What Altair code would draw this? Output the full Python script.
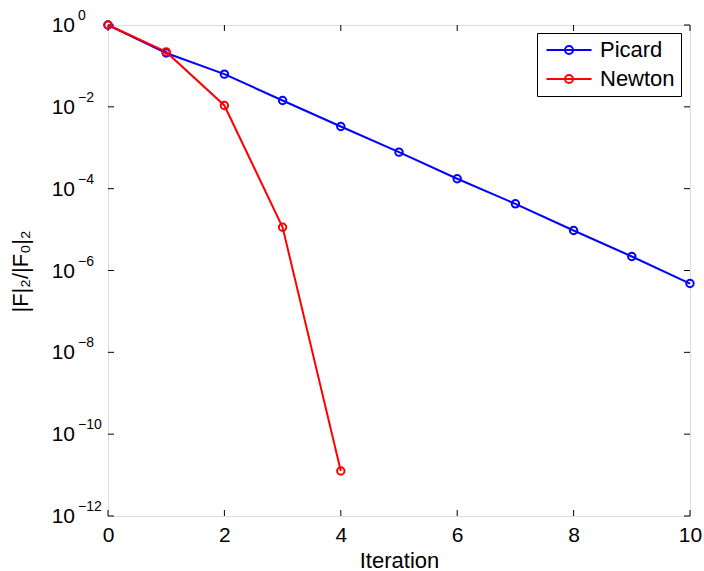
import altair as alt
import pandas as pd

iterations_picard = [0, 1, 2, 3, 4, 5, 6, 7, 8, 9, 10]
picard = [1.0, 0.207, 0.063, 0.0143, 3.3e-3, 7.8e-4, 1.75e-4, 4.26e-5, 9.5e-6, 2.2e-6, 4.8e-7]
iterations_newton = [0, 1, 2, 3, 4]
newton = [1.0, 0.22, 0.0108, 1.14e-5, 1.26e-11]

series_names = ["Picard", "Newton"]
series_colors = ["#0000FF", "#FF0000"]

x_ticks = [0, 2, 4, 6, 8, 10]
y_exponents = [0, -2, -4, -6, -8, -10, -12]
y_ticks = [10.0 ** e for e in y_exponents]
exp_labels = [str(e).replace("-", "\u2212") for e in y_exponents]

W, H = 582, 491
FONT = "Liberation Sans"

df = pd.DataFrame({
    "iter": iterations_picard + iterations_newton,
    "val": picard + newton,
    "method": ["Picard"] * len(picard) + ["Newton"] * len(newton),
    "order": list(range(len(picard))) + list(range(len(newton))),
})
xt = pd.DataFrame({"v": x_ticks})
yt = pd.DataFrame({"v": y_ticks, "lab": exp_labels, "base": ["10"] * len(y_ticks)})

xscale = alt.Scale(domain=[0, 10], nice=False, zero=False)
yscale = alt.Scale(type="log", domain=[1e-12, 1], nice=False)

legend_path = "M-2.5,0H2.5M-0.45,0A0.45,0.45,0,1,1,0.45,0A0.45,0.45,0,1,1,-0.45,0"

color = alt.Color(
    "method:N",
    scale=alt.Scale(domain=series_names, range=series_colors),
    legend=alt.Legend(
        title=None, orient="none", legendX=429, legendY=8,
        symbolType=legend_path, symbolSize=324, symbolStrokeWidth=2,
        symbolFillColor="transparent", symbolOffset=15,
        labelFont=FONT, labelFontSize=22, labelColor="black",
        fillColor="white", strokeColor="black", padding=6,
        rowPadding=7, labelOffset=20,
    ),
)

xaxis = alt.Axis(values=x_ticks, ticks=False, domain=False, grid=False,
                 format="d", labelFlush=False,
                 labelFont=FONT, labelFontSize=21, labelColor="black",
                 labelPadding=8, title="Iteration", titleFont=FONT,
                 titleFontSize=22, titleFontWeight="normal", titleColor="black",
                 titleY=51, titleBaseline="alphabetic")
yaxis = alt.Axis(values=y_ticks, ticks=False, domain=False, grid=False,
                 labels=False,
                 title="|F|\u2082/|F\u2080|\u2082", titleFont=FONT,
                 titleFontSize=22, titleFontWeight="normal", titleColor="black",
                 titleX=-81, titleY=246, titleBaseline="alphabetic",
                 titleAngle=270)

base = alt.Chart(df)
lines = base.mark_line(strokeWidth=2).encode(
    x=alt.X("iter:Q", scale=xscale, axis=xaxis),
    y=alt.Y("val:Q", scale=yscale, axis=yaxis),
    color=color,
    order="order:Q",
)
points = base.mark_point(shape="circle", filled=False, size=55, strokeWidth=2,
                         opacity=1).encode(
    x=alt.X("iter:Q", scale=xscale),
    y=alt.Y("val:Q", scale=yscale),
    color=alt.Color("method:N", scale=alt.Scale(domain=series_names, range=series_colors)),
)

tick_len = 6
bottom_ticks = alt.Chart(xt).mark_rule(color="black", strokeWidth=1).encode(
    x=alt.X("v:Q", scale=xscale), y=alt.value(H), y2=alt.value(H - tick_len))
top_ticks = alt.Chart(xt).mark_rule(color="black", strokeWidth=1).encode(
    x=alt.X("v:Q", scale=xscale), y=alt.value(0), y2=alt.value(tick_len))
left_ticks = alt.Chart(yt).mark_rule(color="black", strokeWidth=1).encode(
    y=alt.Y("v:Q", scale=yscale), x=alt.value(0), x2=alt.value(tick_len))
right_ticks = alt.Chart(yt).mark_rule(color="black", strokeWidth=1).encode(
    y=alt.Y("v:Q", scale=yscale), x=alt.value(W), x2=alt.value(W - tick_len))

bases = alt.Chart(yt).mark_text(
    align="right", baseline="middle", font=FONT, fontSize=21, color="black", dy=1
).encode(y=alt.Y("v:Q", scale=yscale), x=alt.value(-33), text="base:N")
exps = alt.Chart(yt).mark_text(
    align="left", baseline="middle", font=FONT, fontSize=14, color="black", dy=-9
).encode(y=alt.Y("v:Q", scale=yscale), x=alt.value(-30), text="lab:N")

chart = alt.layer(
    bottom_ticks, top_ticks, left_ticks, right_ticks, lines, points, bases, exps
).properties(
    width=W, height=H,
    autosize=alt.AutoSizeParams(type="none"),
    padding={"left": 108, "top": 25, "right": 14, "bottom": 55},
).configure_view(
    stroke="black", strokeWidth=1.5
).configure(background="white")

chart.save("out.html", embed_options={"renderer": "svg", "actions": False})
